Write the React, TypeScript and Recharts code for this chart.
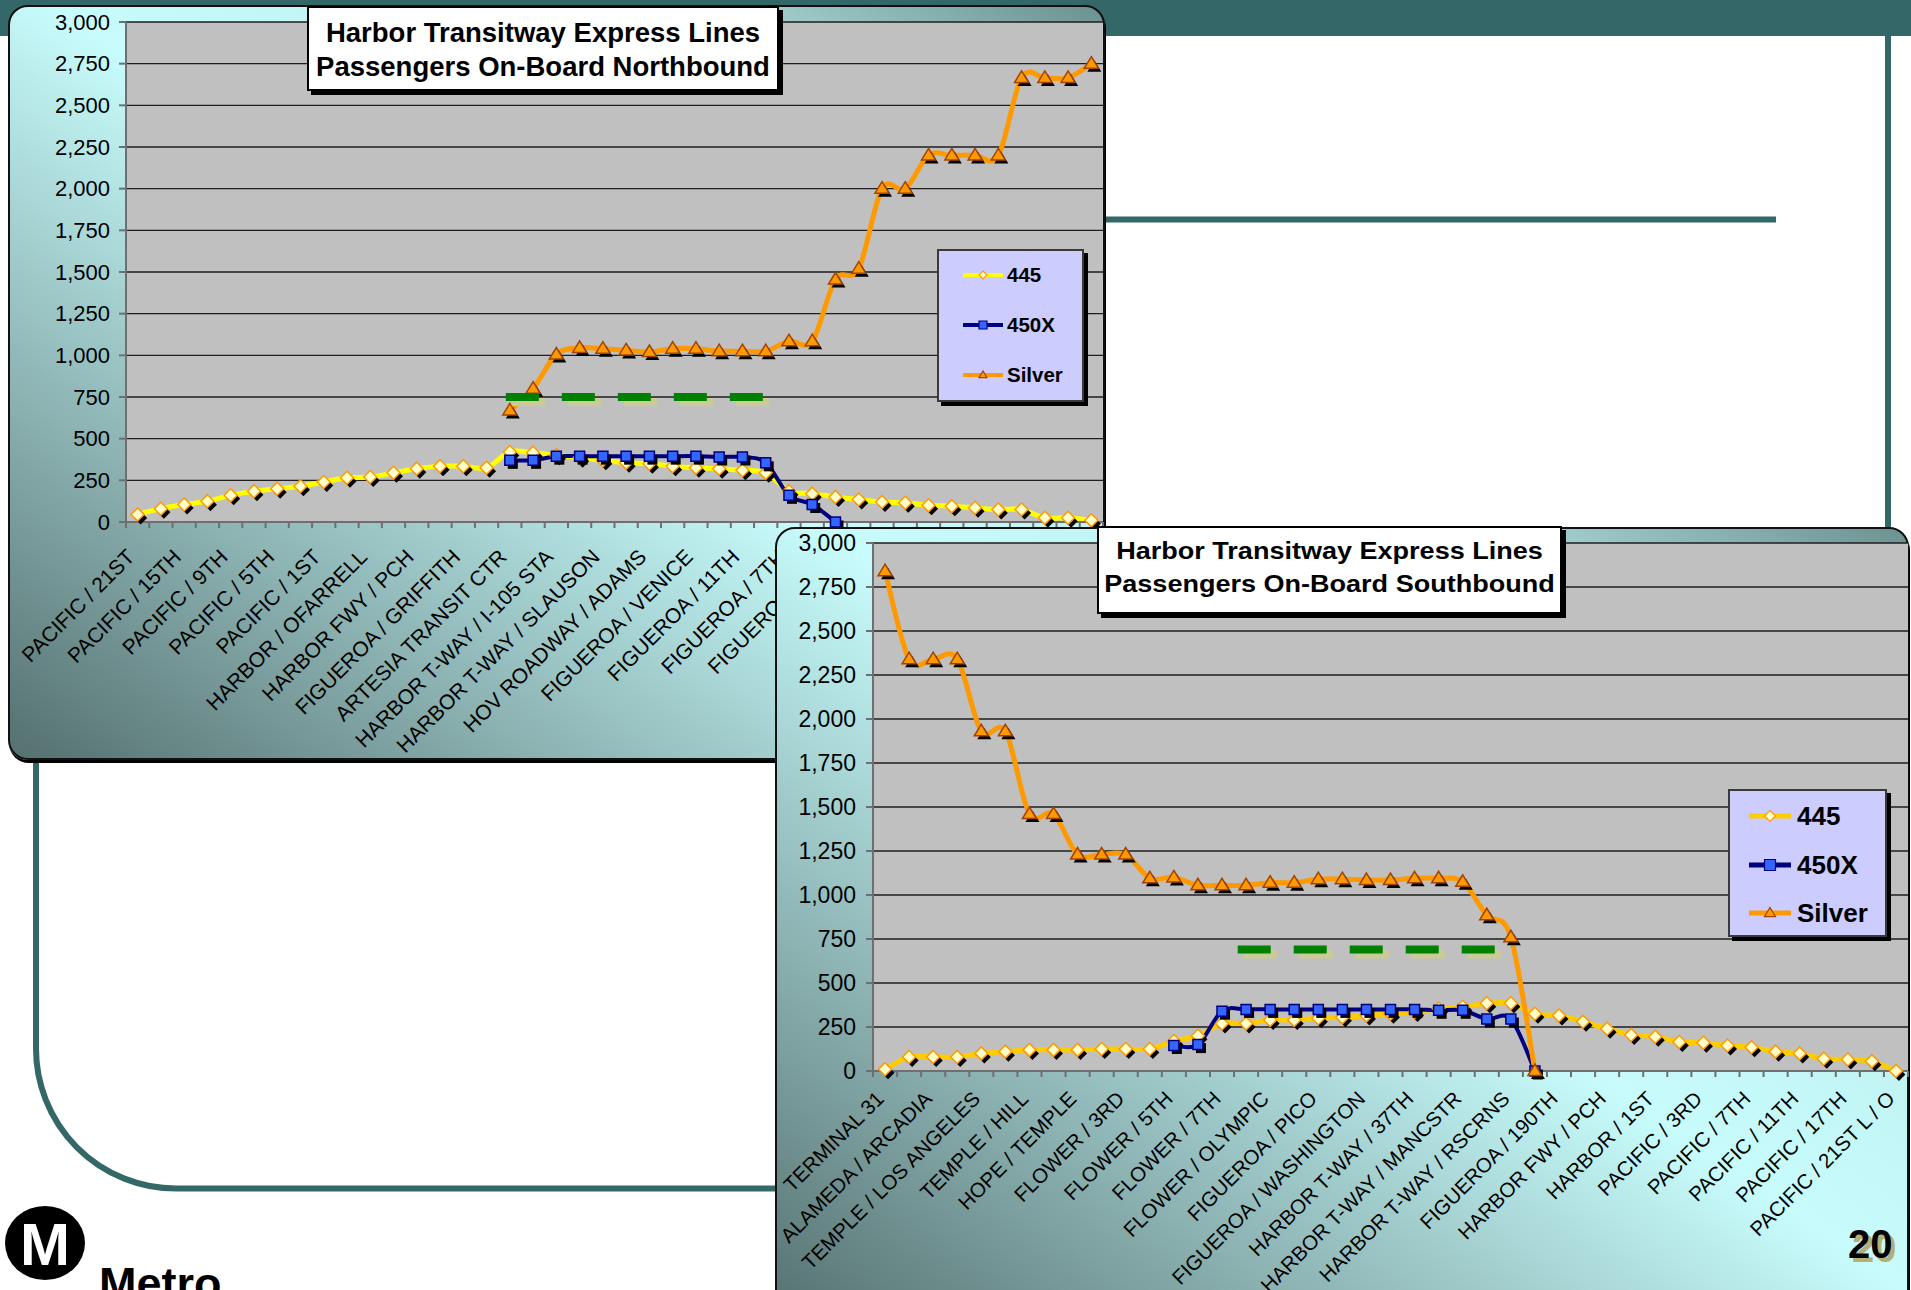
import React from "react";
import { LineChart, Line, XAxis, YAxis, CartesianGrid, Legend, ReferenceLine } from "recharts";

const FONT = '"Liberation Sans", Arial, Helvetica, sans-serif';

const yTicks = [0, 250, 500, 750, 1000, 1250, 1500, 1750, 2000, 2250, 2500, 2750, 3000];

// Northbound
const nbStops = [
  "PACIFIC / 21ST", "PACIFIC / 17TH", "PACIFIC / 15TH", "PACIFIC / 11TH", "PACIFIC / 9TH",
  "PACIFIC / 7TH", "PACIFIC / 5TH", "PACIFIC / 3RD", "PACIFIC / 1ST", "HARBOR / 1ST",
  "HARBOR / OFARRELL", "HARBOR / ANAHEIM", "HARBOR FWY / PCH", "FIGUEROA / 223RD", "FIGUEROA / GRIFFITH",
  "FIGUEROA / 190TH", "ARTESIA TRANSIT CTR", "HARBOR T-WAY / RSCRNS", "HARBOR T-WAY / I-105 STA", "HARBOR T-WAY / MANCSTR",
  "HARBOR T-WAY / SLAUSON", "HARBOR T-WAY / 37TH", "HOV ROADWAY / ADAMS", "FIGUEROA / WASHINGTON", "FIGUEROA / VENICE",
  "FIGUEROA / PICO", "FIGUEROA / 11TH", "FIGUEROA / 9TH", "FIGUEROA / 7TH", "FIGUEROA / 6TH",
  "FIGUEROA / 4TH", "FIGUEROA / 3RD", "GRAND / 1ST", "GRAND / TEMPLE", "ALAMEDA / 1ST",
  "ALAMEDA / ARCADIA", "UNION STATION", "PATSAOURAS PLAZA", "CAL STATE LA", "I-10 / ATLANTIC",
  "EL MONTE STA", "TERMINAL 31 L / O",
];
const nb445 = [
  45, 80, 105, 125, 160, 185, 200, 215, 240, 265, 270, 295, 320, 335, 335, 325, 420, 415, 400, 385,
  370, 355, 350, 335, 325, 320, 310, 295, 185, 170, 150, 135, 120, 115, 100, 95, 85, 75, 75, 25, 25, 10,
];
const nb450x = [
  null, null, null, null, null, null, null, null, null, null, null, null, null, null, null, null,
  370, 370, 395, 395, 395, 395, 395, 395, 395, 390, 390, 355, 160, 105, 0,
  null, null, null, null, null, null, null, null, null, null, null,
];
const nbSilver = [
  null, null, null, null, null, null, null, null, null, null, null, null, null, null, null, null,
  670, 800, 1005, 1045, 1040, 1030, 1020, 1040, 1040, 1025, 1025, 1025, 1085, 1085, 1455, 1520,
  2000, 2000, 2200, 2200, 2200, 2200, 2665, 2665, 2665, 2750,
];
const nbCapacity = 750;
const nbCapacitySpan = [15.94, 27.04];

// Southbound
const sbStops = [
  "TERMINAL 31", "PATSAOURAS PLAZA", "ALAMEDA / ARCADIA", "ALAMEDA / TEMPLE", "TEMPLE / LOS ANGELES",
  "TEMPLE / SPRING", "TEMPLE / HILL", "TEMPLE / GRAND", "HOPE / TEMPLE", "FLOWER / 1ST",
  "FLOWER / 3RD", "FLOWER / 4TH", "FLOWER / 5TH", "FLOWER / 6TH", "FLOWER / 7TH",
  "FLOWER / 8TH", "FLOWER / OLYMPIC", "FIGUEROA / 12TH", "FIGUEROA / PICO", "FIGUEROA / VENICE",
  "FIGUEROA / WASHINGTON", "HOV ROADWAY / ADAMS", "HARBOR T-WAY / 37TH", "HARBOR T-WAY / SLAUSON", "HARBOR T-WAY / MANCSTR",
  "HARBOR T-WAY / I-105 STA", "HARBOR T-WAY / RSCRNS", "ARTESIA TRANSIT CTR", "FIGUEROA / 190TH", "FIGUEROA / GRIFFITH",
  "HARBOR FWY / PCH", "HARBOR / OFARRELL", "HARBOR / 1ST", "PACIFIC / 1ST", "PACIFIC / 3RD",
  "PACIFIC / 5TH", "PACIFIC / 7TH", "PACIFIC / 9TH", "PACIFIC / 11TH", "PACIFIC / 15TH",
  "PACIFIC / 17TH", "PACIFIC / 19TH", "PACIFIC / 21ST L / O",
];
const sb445 = [
  10, 80, 80, 80, 100, 110, 120, 120, 120, 125, 125, 125, 170, 200, 270, 270, 290, 290, 300, 305,
  315, 325, 335, 355, 365, 385, 385, 325, 315, 280, 240, 205, 195, 165, 160, 145, 135, 110, 100, 70,
  65, 55, 0,
];
const sb450x = [
  null, null, null, null, null, null, null, null, null, null, null, null,
  145, 150, 340, 350, 350, 350, 350, 350, 350, 350, 350, 345, 345, 295, 295, 0,
  null, null, null, null, null, null, null, null, null, null, null, null, null, null, null,
];
const sbSilver = [
  2840, 2340, 2340, 2340, 1930, 1930, 1460, 1460, 1230, 1230, 1230, 1095, 1100, 1055, 1055, 1055,
  1070, 1070, 1090, 1090, 1085, 1085, 1095, 1095, 1075, 885, 760, 0,
  null, null, null, null, null, null, null, null, null, null, null, null, null, null, null,
];
const sbCapacity = 690;
const sbCapacitySpan = [14.8, 25.6];

const MARKERS: any = {
  "445": { kind: "diamond", fill: "#ffffcc", stroke: "#ff9900" },
  "450X": { kind: "square", fill: "#3366ff", stroke: "#000080" },
  Silver: { kind: "triangle", fill: "#ff9900", stroke: "#a34400" },
};

// Excel-like smoothed line (Catmull-Rom through every point)
function excelSmooth(context: any) {
  let pts: number[][] = [];
  return {
    areaStart() {},
    areaEnd() {},
    lineStart() {
      pts = [];
    },
    point(x: number, y: number) {
      pts.push([+x, +y]);
    },
    lineEnd() {
      const n = pts.length;
      if (!n) return;
      context.moveTo(pts[0][0], pts[0][1]);
      for (let i = 0; i < n - 1; i++) {
        const p0 = pts[i - 1] || pts[i];
        const p1 = pts[i];
        const p2 = pts[i + 1];
        const p3 = pts[i + 2] || p2;
        context.bezierCurveTo(
          p1[0] + (p2[0] - p0[0]) / 6, p1[1] + (p2[1] - p0[1]) / 6,
          p2[0] - (p3[0] - p1[0]) / 6, p2[1] - (p3[1] - p1[1]) / 6,
          p2[0], p2[1]
        );
      }
    },
  };
}

function shapePath(kind: string, x: number, y: number, s: number) {
  if (kind === "diamond") return `M${x},${y - s}L${x + s},${y}L${x},${y + s}L${x - s},${y}Z`;
  if (kind === "square") return `M${x - s},${y - s}H${x + s}V${y + s}H${x - s}Z`;
  return `M${x},${y - s}L${x + s},${y + s * 0.65}L${x - s},${y + s * 0.65}Z`;
}

const dotFor = (name: string, size: number) => (p: any) => {
  const key = `${name}-${p.index}`;
  const m = MARKERS[name];
  if (p.cx == null || p.cy == null || isNaN(p.cy) || p.value == null) return <g key={key} />;
  return (
    <g key={key}>
      <path d={shapePath(m.kind, p.cx + 3, p.cy + 3.5, size)} fill="#000" />
      <path d={shapePath(m.kind, p.cx, p.cy, size)} fill={m.fill} stroke={m.stroke} strokeWidth={1.5} />
    </g>
  );
};

const dashShape = (p: any) => (
  <g>
    <line x1={p.x1 + 6} y1={p.y1 + 5} x2={p.x2 + 6} y2={p.y2 + 5} stroke="#cbcb96" strokeWidth={8} strokeDasharray="33 23" />
    <line x1={p.x1} y1={p.y1} x2={p.x2} y2={p.y2} stroke="#008000" strokeWidth={8} strokeDasharray="33 23" />
  </g>
);

function StopTick(props: any) {
  const { x, y, payload, half, count, fontSize, dx, dy } = props;
  const i = props.index ?? payload.index;
  const ax = x + dx;
  const ay = y + dy;
  return (
    <g>
      <line x1={x - half} y1={y} x2={x - half} y2={y + 6} stroke="#6f6f6f" strokeWidth={2} />
      {i === count - 1 && <line x1={x + half} y1={y} x2={x + half} y2={y + 6} stroke="#6f6f6f" strokeWidth={2} />}
      {i % 2 === 0 && (
        <text x={ax} y={ay} dy="0.35em" textAnchor="end" transform={`rotate(-45 ${ax} ${ay})`}
          fontSize={fontSize} fontFamily={FONT} fill="#000">
          {payload.value}
        </text>
      )}
    </g>
  );
}

function SeriesLegend({ payload, l }: any) {
  return (
    <div style={{
      position: "relative", width: l.width, height: l.height, boxSizing: "border-box",
      background: "#ccccff", border: "2px solid #3a3a3a", boxShadow: "4px 4px 0 #000",
    }}>
      {(payload || []).map((e: any, i: number) => {
        const m = MARKERS[e.value];
        const cy = l.first + i * l.gap;
        return (
          <div key={e.value} style={{ position: "absolute", left: l.lineX, top: cy - 17, height: 30, display: "flex", alignItems: "center" }}>
            <svg width={l.lineW} height={20} style={{ display: "block" }}>
              <line x1={0} y1={10} x2={l.lineW} y2={10} stroke={e.color} strokeWidth={l.stroke} />
              <path d={shapePath(m.kind, l.lineW / 2, 10, l.marker)} fill={m.fill} stroke={m.stroke} strokeWidth={1.2} />
            </svg>
            <span style={{ marginLeft: l.textGap, fontFamily: FONT, fontWeight: 700, fontSize: l.font, lineHeight: "30px", color: "#000" }}>
              {e.value}
            </span>
          </div>
        );
      })}
    </div>
  );
}

function TransitChart({ c }: any) {
  const n = c.stops.length;
  const plotW = c.width - c.margin.left - c.margin.right - c.yAxisWidth;
  const half = plotW / n / 2;
  const data = c.stops.map((stop: string, i: number) => ({
    stop, r445: c.s445[i], r450x: c.s450x[i], silver: c.silver[i],
  }));
  return (
    <div style={{ position: "absolute", left: c.left, top: c.top }}>
      <LineChart width={c.width} height={c.height} data={data} margin={c.margin}>
        <CartesianGrid vertical={false} fill="#c0c0c0" fillOpacity={1} stroke="#1e1e1e" strokeWidth={1.3} />
        <XAxis
          dataKey="stop" type="category" interval={0} padding={{ left: half, right: half }}
          height={c.xAxisHeight} tickSize={0} tickMargin={0} tickLine={false}
          axisLine={{ stroke: "#6f6f6f", strokeWidth: 2 }}
          tick={(p: any) => <StopTick {...p} half={half} count={n} fontSize={c.xFont} dx={c.labelDx} dy={c.labelDy} />}
        />
        <XAxis xAxisId="span" type="number" domain={[0, n]} hide />
        <YAxis
          width={c.yAxisWidth} domain={[0, 3000]} ticks={yTicks} interval={0}
          tickFormatter={(v: number) => v.toLocaleString("en-US")}
          tickSize={7} tickMargin={c.yMargin}
          tick={{ fontSize: c.yFont, fill: "#000", fontFamily: FONT }}
          axisLine={{ stroke: "#6f6f6f", strokeWidth: 2 }} tickLine={{ stroke: "#6f6f6f", strokeWidth: 2 }}
        />
        <Line name="445" dataKey="r445" type={excelSmooth as any} stroke={c.color445} strokeWidth={5}
          dot={dotFor("445", 6.5)} activeDot={false} isAnimationActive={false} />
        <Line name="450X" dataKey="r450x" type={excelSmooth as any} stroke="#000080" strokeWidth={4}
          dot={dotFor("450X", 5)} activeDot={false} isAnimationActive={false} />
        <Line name="Silver" dataKey="silver" type={excelSmooth as any} stroke="#ff9900" strokeWidth={5}
          dot={dotFor("Silver", 7)} activeDot={false} isAnimationActive={false} />
        <ReferenceLine
          xAxisId="span" ifOverflow="visible" shape={dashShape} zIndex={1200}
          segment={[{ x: c.span[0], y: c.capacity }, { x: c.span[1], y: c.capacity }]}
        />
        <Legend
          layout="vertical" align="center" verticalAlign="middle"
          wrapperStyle={{ left: c.legend.left, top: c.legend.top, right: "auto", bottom: "auto", width: c.legend.width, height: c.legend.height }}
          content={(p: any) => <SeriesLegend payload={p.payload} l={c.legend} />}
        />
      </LineChart>
    </div>
  );
}

const northbound = {
  left: 0, top: 0, width: 1105, height: 760,
  margin: { top: 22, right: 2, left: 0, bottom: 0 },
  yAxisWidth: 126, xAxisHeight: 238, yMargin: 9, yFont: 22, xFont: 21, labelDx: -7, labelDy: 31,
  stops: nbStops, s445: nb445, s450x: nb450x, silver: nbSilver,
  capacity: nbCapacity, span: nbCapacitySpan, color445: "#ffff00",
  legend: { left: 937, top: 249, width: 147, height: 153, first: 26, gap: 50, lineX: 24, lineW: 40, textGap: 4, font: 20.5, stroke: 4, marker: 4 },
};

const southbound = {
  left: 775, top: 527, width: 1136, height: 763,
  margin: { top: 16, right: 3, left: 0, bottom: 0 },
  yAxisWidth: 98, xAxisHeight: 219, yMargin: 10, yFont: 23, xFont: 20.5, labelDx: -5, labelDy: 24,
  stops: sbStops, s445: sb445, s450x: sb450x, silver: sbSilver,
  capacity: sbCapacity, span: sbCapacitySpan, color445: "#ffcc00",
  legend: { left: 953, top: 262, width: 159, height: 148, first: 27, gap: 48.5, lineX: 19, lineW: 42, textGap: 6, font: 26, stroke: 5, marker: 5.5 },
};

const panelStyle = (left: number, top: number, width: number, height: number): React.CSSProperties => ({
  position: "absolute", left, top, width, height, boxSizing: "border-box",
  border: "2px solid #111", borderRadius: 20, boxShadow: "1px 3px 0 #000",
  background: "linear-gradient(to top right, #54706f 0%, #8db3b3 25%, #c8fcfc 52%, #bdeeee 75%, #6c9191 100%)",
});

function TitleBox({ left, top, width, height, font, lineH, pad, stretch, lines }: any) {
  return (
    <div style={{
      position: "absolute", left, top, width, height, boxSizing: "border-box", background: "#fff",
      border: "2px solid #000", boxShadow: "4px 4px 0 #000", paddingTop: pad, textAlign: "center",
    }}>
      {lines.map((t: string) => (
        <div key={t} style={{ fontFamily: FONT, fontWeight: 700, fontSize: font, lineHeight: `${lineH}px`, color: "#000", whiteSpace: "nowrap", transform: `scaleX(${stretch})` }}>
          {t}
        </div>
      ))}
    </div>
  );
}

export default function App() {
  const teal = "#346767";
  return (
    <div style={{ position: "absolute", left: 0, top: 0, width: 1911, height: 1290, overflow: "hidden", background: "#fff", fontFamily: FONT }}>
      <svg width={1911} height={1290} style={{ position: "absolute", left: 0, top: 0 }}>
        <rect x={0} y={0} width={1911} height={36} fill={teal} />
        <line x1={1888} y1={36} x2={1888} y2={1290} stroke={teal} strokeWidth={6} />
        <line x1={1104} y1={219.5} x2={1776} y2={219.5} stroke={teal} strokeWidth={6} />
        <path d="M36 740 V1048 A140 140 0 0 0 176 1188.5 H900" fill="none" stroke={teal} strokeWidth={6} />
      </svg>

      <div style={panelStyle(8, 5, 1097, 755)} />
      <TransitChart c={northbound} />
      <TitleBox left={307} top={6} width={472} height={85} font={27.5} lineH={34} pad={8} stretch={1}
        lines={["Harbor Transitway Express Lines", "Passengers On-Board Northbound"]} />

      <div style={panelStyle(775, 527, 1134, 800)} />
      <TransitChart c={southbound} />
      <TitleBox left={1097} top={526} width={465} height={88} font={23.5} lineH={33.3} pad={7} stretch={1.15}
        lines={["Harbor Transitway Express Lines", "Passengers On-Board Southbound"]} />

      <svg width={1911} height={1290} style={{ position: "absolute", left: 0, top: 0, pointerEvents: "none" }}>
        <ellipse cx={45} cy={1243} rx={40} ry={37} fill="#000" />
        <text x={45} y={1265} textAnchor="middle" fontFamily={FONT} fontWeight={700} fontSize={60} fill="#fff">M</text>
        <text x={99} y={1299} fontFamily={FONT} fontWeight={700} fontSize={45} fill="#000">Metro</text>
        <text x={1852} y={1262} fontFamily={'"Liberation Sans Narrow", ' + FONT} fontWeight={700} fontSize={40} fill="#b4ae78">20</text>
        <text x={1848} y={1258} fontFamily={'"Liberation Sans Narrow", ' + FONT} fontWeight={700} fontSize={40} fill="#000">20</text>
      </svg>
    </div>
  );
}
